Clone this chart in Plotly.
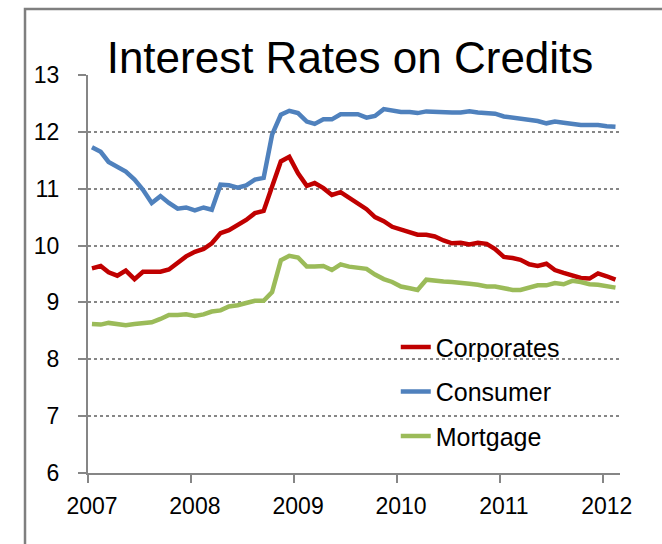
import pandas as pd
import plotly.graph_objects as go

# Monthly observations, January 2007 through February 2012 (mid-month dates)
months = pd.date_range("2007-01-01", periods=62, freq="MS") + pd.Timedelta(days=14)

corporates = [
    9.60, 9.64, 9.53, 9.47, 9.56, 9.41, 9.54, 9.54, 9.54, 9.58, 9.71, 9.81,
    9.89, 9.94, 10.04, 10.22, 10.27, 10.36, 10.45, 10.57, 10.61, 11.04, 11.48, 11.56,
    11.27, 11.05, 11.10, 11.01, 10.89, 10.94, 10.84, 10.76, 10.64, 10.50, 10.43, 10.33,
    10.28, 10.22, 10.19, 10.19, 10.16, 10.09, 10.04, 10.05, 10.02, 10.05, 10.03, 9.94,
    9.80, 9.78, 9.75, 9.67, 9.64, 9.68, 9.57, 9.52, 9.47, 9.43, 9.42, 9.51,
    9.46, 9.40,
]
consumer = [
    11.73, 11.65, 11.47, 11.38, 11.30, 11.16, 10.98, 10.75, 10.87, 10.75, 10.65, 10.67,
    10.62, 10.67, 10.63, 11.07, 11.06, 11.02, 11.06, 11.16, 11.19, 11.95, 12.30, 12.37,
    12.33, 12.18, 12.14, 12.22, 12.22, 12.31, 12.31, 12.31, 12.25, 12.28, 12.40, 12.37,
    12.35, 12.35, 12.33, 12.36, 12.35, 12.35, 12.34, 12.34, 12.36, 12.34, 12.33, 12.32,
    12.27, 12.25, 12.22, 12.20, 12.19, 12.15, 12.18, 12.16, 12.13, 12.12, 12.12, 12.12,
    12.10, 12.09,
]
mortgage = [
    8.62, 8.61, 8.64, 8.61, 8.60, 8.62, 8.64, 8.65, 8.71, 8.78, 8.78, 8.79,
    8.76, 8.79, 8.84, 8.86, 8.93, 8.95, 8.99, 9.03, 9.03, 9.18, 9.74, 9.82,
    9.79, 9.63, 9.63, 9.64, 9.57, 9.67, 9.63, 9.60, 9.59, 9.49, 9.41, 9.36,
    9.28, 9.25, 9.22, 9.40, 9.38, 9.37, 9.36, 9.35, 9.33, 9.31, 9.28, 9.28,
    9.24, 9.22, 9.22, 9.26, 9.30, 9.30, 9.34, 9.32, 9.38, 9.36, 9.32, 9.31,
    9.29, 9.26,
]

series_names = ["Corporates", "Consumer", "Mortgage"]
series_values = [corporates, consumer, mortgage]
series_colors = ["#C00000", "#4F81BD", "#9BBB59"]

year_labels = ["2007", "2008", "2009", "2010", "2011", "2012"]
year_ticks = [f"{y}-01-01" for y in year_labels]
y_ticks = [6, 7, 8, 9, 10, 11, 12, 13]

FONT = "Liberation Sans"
AXIS_GREY = "#868686"

fig = go.Figure()
for name, values, color in zip(series_names, series_values, series_colors):
    fig.add_trace(go.Scatter(
        x=months, y=values, name=name, mode="lines",
        line=dict(color=color, width=4.5),
        legendgroup=name,
    ))

fig.update_layout(
    width=662, height=544, autosize=False,
    margin=dict(l=88, r=42, t=75, b=71),
    paper_bgcolor="white", plot_bgcolor="white",
    font=dict(family=FONT, color="black"),
    title=dict(
        text="Interest Rates on Credits",
        font=dict(family=FONT, size=44, color="black"),
        x=0.5287, xanchor="center", xref="container",
        y=1 - 58 / 544, yanchor="middle", yref="container",
    ),
    showlegend=True,
    legend=dict(
        x=0.5785, y=0.374, xanchor="left", yanchor="top",
        bgcolor="rgba(0,0,0,0)", font=dict(family=FONT, size=25, color="black"),
        traceorder="grouped", tracegroupgap=9,
    ),
    shapes=[
        # outer chart frame (top and left edges visible)
        dict(type="rect", xref="paper", yref="paper",
             x0=-0.1184, x1=1.3, y0=-0.3, y1=1.1658,
             line=dict(color="#7F7F7F", width=2.5), layer="below"),
    ],
)

fig.update_xaxes(
    type="date", range=["2007-01-01", "2012-03-02"],
    tickvals=year_ticks, ticktext=year_labels,
    ticks="outside", ticklen=8, tickwidth=2, tickcolor=AXIS_GREY,
    showline=True, linecolor=AXIS_GREY, linewidth=2,
    showgrid=False, zeroline=False,
    tickfont=dict(family=FONT, size=23, color="black"),
    ticklabelstandoff=3, ticklabelshift=4,
)
fig.update_yaxes(
    range=[6, 13], tickvals=y_ticks,
    ticks="outside", ticklen=8, tickwidth=2, tickcolor=AXIS_GREY,
    showline=True, linecolor=AXIS_GREY, linewidth=2,
    showgrid=True, gridcolor=AXIS_GREY, gridwidth=1.5, griddash="dot",
    zeroline=False,
    tickfont=dict(family=FONT, size=23, color="black"),
    ticklabelstandoff=14,
)

fig.write_html("out.html")
